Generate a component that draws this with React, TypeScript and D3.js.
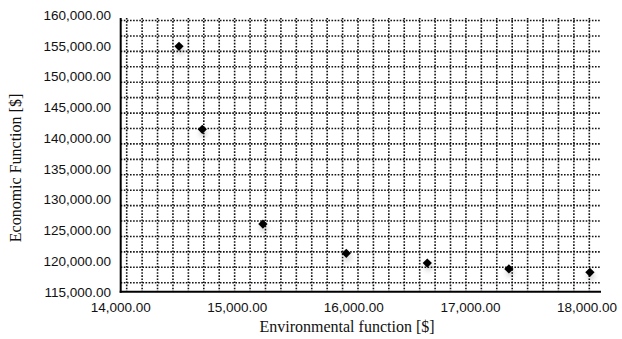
import React, { useRef, useEffect } from "react";
import * as d3 from "d3";

// values
const envCost = [14500, 14700, 15220, 15935, 16630, 17330, 18025];
const econCost = [154900, 141400, 126000, 121250, 119650, 118700, 118150];
const xTicks = [14000, 15000, 16000, 17000, 18000];
const yTicks = [115000, 120000, 125000, 130000, 135000, 140000, 145000, 150000, 155000, 160000];

const width = 622;
const height = 339;

export default function App() {
  const svgRef = useRef(null);

  useEffect(() => {
    const svg = d3.select(svgRef.current);
    svg.selectAll("*").remove();

    // plot box in pixels
    const left = 120.7;
    const right = 601;
    const top = 18;
    const bottom = 291.7;

    const xScale = d3.scaleLinear().domain([14000, 18000]).range([left, 587]);
    const yScale = d3.scaleLinear().domain([115000, 160000]).range([bottom, 15]);

    const fmt = d3.format(",.2f");

    // soft shadow under the markers
    const defs = svg.append("defs");
    const filter = defs
      .append("filter")
      .attr("id", "shadow")
      .attr("x", "-100%")
      .attr("y", "-100%")
      .attr("width", "300%")
      .attr("height", "300%");
    filter
      .append("feDropShadow")
      .attr("dx", 1)
      .attr("dy", 4)
      .attr("stdDeviation", 2.5)
      .attr("flood-color", "#000")
      .attr("flood-opacity", 0.18);

    // dotted background grid (fixed spacing, not tied to ticks)
    const step = 15.42;
    const gridX = d3.range(left + 6, right - 2, step);
    const gridY = d3.range(bottom - 9, top, -step);

    const grid = svg
      .append("g")
      .attr("stroke", "#111")
      .attr("stroke-width", 1.6)
      .attr("stroke-dasharray", "1.6,1.5");
    grid
      .selectAll("line.v")
      .data(gridX)
      .join("line")
      .attr("class", "v")
      .attr("x1", (d) => d)
      .attr("x2", (d) => d)
      .attr("y1", top)
      .attr("y2", bottom);
    grid
      .selectAll("line.h")
      .data(gridY)
      .join("line")
      .attr("class", "h")
      .attr("x1", left)
      .attr("x2", right - 1)
      .attr("y1", (d) => d)
      .attr("y2", (d) => d);

    // axis lines
    svg
      .append("line")
      .attr("x1", left)
      .attr("x2", left)
      .attr("y1", top)
      .attr("y2", bottom + 1)
      .attr("stroke", "#000")
      .attr("stroke-width", 2);
    svg
      .append("line")
      .attr("x1", left - 1)
      .attr("x2", right)
      .attr("y1", bottom)
      .attr("y2", bottom)
      .attr("stroke", "#000")
      .attr("stroke-width", 2);

    // tick labels
    svg
      .append("g")
      .selectAll("text")
      .data(yTicks)
      .join("text")
      .attr("x", 111)
      .attr("y", (d) => yScale(d))
      .attr("dy", "0.36em")
      .attr("text-anchor", "end")
      .style("font-family", "'Liberation Sans', Arial, sans-serif")
      .style("font-size", "13.5px")
      .attr("fill", "#111")
      .text((d) => fmt(d));

    svg
      .append("g")
      .selectAll("text")
      .data(xTicks)
      .join("text")
      .attr("x", (d) => xScale(d))
      .attr("y", 311.5)
      .attr("text-anchor", "middle")
      .style("font-family", "'Liberation Sans', Arial, sans-serif")
      .style("font-size", "13.5px")
      .attr("fill", "#111")
      .text((d) => fmt(d));

    // axis titles
    svg
      .append("text")
      .attr("x", 347)
      .attr("y", 332)
      .attr("text-anchor", "middle")
      .style("font-family", "'Liberation Serif', 'Times New Roman', serif")
      .style("font-size", "16px")
      .attr("fill", "#111")
      .text("Environmental function [$]");

    svg
      .append("text")
      .attr("transform", "translate(21,168) rotate(-90)")
      .attr("text-anchor", "middle")
      .style("font-family", "'Liberation Serif', 'Times New Roman', serif")
      .style("font-size", "16px")
      .attr("fill", "#111")
      .text("Economic Function [$]");

    // diamond markers
    const diamond = d3.symbol().type(d3.symbolDiamond2).size(55);
    svg
      .append("g")
      .selectAll("path")
      .data(envCost.map((x, i) => ({ x, y: econCost[i] })))
      .join("path")
      .attr("d", diamond)
      .attr("transform", (d) => `translate(${xScale(d.x)},${yScale(d.y)})`)
      .attr("fill", "#000")
      .attr("filter", "url(#shadow)");
  }, []);

  return (
    <svg
      ref={svgRef}
      width={width}
      height={height}
      style={{ position: "absolute", left: 0, top: 0, background: "#fff" }}
    ></svg>
  );
}
